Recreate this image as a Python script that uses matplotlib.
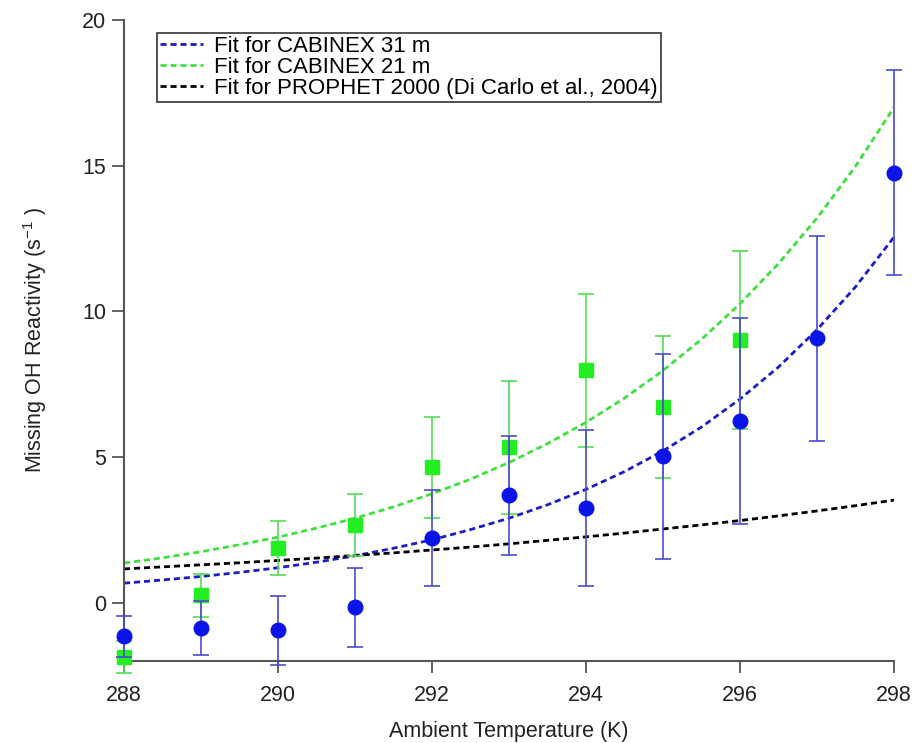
import numpy as np
import matplotlib
matplotlib.use("Agg")
import matplotlib.pyplot as plt

plt.rcParams['font.family'] = ['Liberation Sans', 'DejaVu Sans']

# -------------------------
# data
# -------------------------
# CABINEX 31 m (blue circles)
t31 = [288, 289, 290, 291, 292, 293, 294, 295, 296, 297, 298]
k31 = [-1.16, -0.88, -0.95, -0.16, 2.21, 3.68, 3.24, 5.02, 6.24, 9.07, 14.76]
e31 = [0.71, 0.93, 1.18, 1.35, 1.65, 2.05, 2.68, 3.51, 3.53, 3.52, 3.51]

# CABINEX 21 m (green squares)
t21 = [288, 289, 290, 291, 292, 293, 294, 295, 296]
k21 = [-1.86, 0.26, 1.88, 2.66, 4.65, 5.34, 7.97, 6.71, 9.02]
e21 = [0.55, 0.74, 0.94, 1.07, 1.74, 2.28, 2.62, 2.43, 3.06]

# fit curves read every half kelvin
tfit = [288, 288.5, 289, 289.5, 290, 290.5, 291, 291.5, 292, 292.5, 293,
        293.5, 294, 294.5, 295, 295.5, 296, 296.5, 297, 297.5, 298]
fit31 = [0.67, 0.78, 0.90, 1.04, 1.20, 1.39, 1.61, 1.87, 2.16, 2.51, 2.90,
         3.36, 3.89, 4.50, 5.21, 6.03, 6.99, 8.09, 9.37, 10.84, 12.55]
fit21 = [1.36, 1.54, 1.75, 1.99, 2.25, 2.56, 2.90, 3.29, 3.74, 4.24, 4.81,
         5.46, 6.19, 7.02, 7.97, 9.04, 10.26, 11.64, 13.20, 14.98, 17.00]
fit_prophet = [1.16, 1.23, 1.30, 1.37, 1.45, 1.53, 1.62, 1.71, 1.81, 1.91, 2.02,
               2.14, 2.26, 2.39, 2.53, 2.67, 2.82, 2.98, 3.15, 3.33, 3.52]

fig = plt.figure(figsize=(9.16, 7.43), dpi=100)
ax = fig.add_axes([0.1354, 0.1104, 0.8406, 0.8627])

dash = (2.2, 1.4)
ax.plot(tfit, fit31, color='#1c1cc8', lw=2.0, dashes=dash, label='Fit for CABINEX 31 m')
ax.plot(tfit, fit21, color='#3ee03e', lw=2.0, dashes=dash, label='Fit for CABINEX 21 m')
ax.plot(tfit, fit_prophet, color='black', lw=2.0, dashes=dash,
        label='Fit for PROPHET 2000 (Di Carlo et al., 2004)')

ax.errorbar(t21, k21, yerr=e21, fmt='s', ms=10, color='#22ee22', mec='#22ee22',
            ecolor='#55dd55', elinewidth=1.2, capsize=6, capthick=1.2, clip_on=False, zorder=3)
ax.errorbar(t31, k31, yerr=e31, fmt='o', ms=10.5, color='#0a14e6', mec='#0a14e6',
            ecolor='#4a4ad0', elinewidth=1.2, capsize=6, capthick=1.2, clip_on=False, zorder=4)

ax.set_xlim(288, 298)
ax.set_ylim(-2, 20)
ax.set_xticks([288, 290, 292, 294, 296, 298])
ax.set_yticks([0, 5, 10, 15, 20])

for side in ['top', 'right']:
    ax.spines[side].set_visible(False)
for side in ['left', 'bottom']:
    ax.spines[side].set_color('#555555')
    ax.spines[side].set_linewidth(1.5)
ax.tick_params(direction='out', length=8.5, width=1.3, color='#555555',
               labelsize=15.5, labelcolor='#222222')
ax.tick_params(axis='x', pad=8.5)
ax.tick_params(axis='y', pad=4.5)

ax.set_xlabel('Ambient Temperature (K)', fontsize=15.5, color='#222222', labelpad=11)
ax.set_ylabel('Missing OH Reactivity (s$^{\\mathregular{-1}}$ )', fontsize=15.5,
              color='#222222', labelpad=24)

leg = ax.legend(loc='upper left', bbox_to_anchor=(0.043, 0.98), fontsize=16,
                frameon=True, fancybox=False, framealpha=1, edgecolor='#333333',
                handlelength=1.9, handletextpad=0.5, labelspacing=0.0,
                borderpad=0.15, borderaxespad=0)
leg.get_frame().set_linewidth(1.2)

fig.savefig('out.png', dpi=100)
